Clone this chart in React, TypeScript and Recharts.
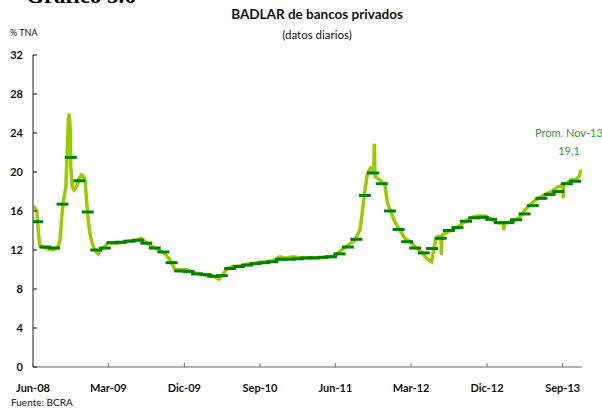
import React from "react";
import { ComposedChart, Line, Scatter, XAxis, YAxis } from "recharts";

// Tasa BADLAR bancos privados (datos diarios, lectura aproximada del gráfico)
const fechas = [
  "2008-06-01", "2008-06-08", "2008-06-15", "2008-06-20", "2008-06-25", "2008-07-08", "2008-07-26", "2008-08-14",
  "2008-09-01", "2008-09-07", "2008-09-13", "2008-09-19", "2008-09-28", "2008-10-03", "2008-10-07", "2008-10-10",
  "2008-10-14", "2008-10-16", "2008-10-21", "2008-10-28", "2008-11-06", "2008-11-15", "2008-11-24", "2008-12-02",
  "2008-12-07", "2008-12-12", "2008-12-18", "2008-12-24", "2009-01-01", "2009-01-11", "2009-01-23", "2009-02-04",
  "2009-02-16", "2009-02-28", "2009-03-30", "2009-04-24", "2009-05-18", "2009-06-11", "2009-06-29", "2009-07-11",
  "2009-07-29", "2009-08-16", "2009-09-03", "2009-09-22", "2009-10-10", "2009-10-28", "2009-11-09", "2009-12-09",
  "2010-01-02", "2010-01-26", "2010-02-19", "2010-03-15", "2010-04-05", "2010-04-20", "2010-05-03", "2010-05-26",
  "2010-06-19", "2010-07-13", "2010-08-06", "2010-09-01", "2010-09-23", "2010-10-17", "2010-11-12", "2010-12-04",
  "2010-12-28", "2011-01-23", "2011-02-10", "2011-04-12", "2011-05-30", "2011-06-23", "2011-07-17", "2011-08-10",
  "2011-08-29", "2011-09-06", "2011-09-16", "2011-09-25", "2011-10-06", "2011-10-16", "2011-10-18", "2011-10-20",
  "2011-10-22", "2011-10-24", "2011-11-09", "2011-11-27", "2011-12-07", "2011-12-19", "2012-01-02", "2012-01-20",
  "2012-02-07", "2012-02-26", "2012-03-15", "2012-04-08", "2012-04-26", "2012-05-14", "2012-05-29", "2012-06-07",
  "2012-06-17", "2012-06-19", "2012-06-21", "2012-07-01", "2012-07-26", "2012-08-18", "2012-09-12", "2012-10-06",
  "2012-10-30", "2012-11-23", "2012-12-17", "2013-01-10", "2013-01-29", "2013-01-31", "2013-02-02", "2013-02-10",
  "2013-03-06", "2013-03-30", "2013-04-17", "2013-05-11", "2013-06-04", "2013-06-28", "2013-07-23", "2013-08-16",
  "2013-09-01", "2013-09-03", "2013-09-05", "2013-09-15", "2013-10-03", "2013-10-21", "2013-11-01", "2013-11-06",
  "2013-11-08",
];
const badlar = [
  16.45, 16.3, 16.0, 14.0, 12.5, 12.3, 12.1, 12.0,
  12.4, 13.0, 15.4, 17.0, 18.4, 22.3, 25.3, 26.0,
  24.3, 20.5, 18.5, 18.15, 18.5, 19.35, 19.7, 19.5,
  19.0, 17.1, 15.1, 13.7, 12.7, 12.0, 11.6, 12.1,
  12.35, 12.75, 12.7, 12.8, 12.95, 13.0, 13.2, 12.85,
  12.5, 12.2, 11.95, 11.6, 11.0, 10.0, 9.95, 10.0,
  9.7, 9.55, 9.4, 9.35, 9.0, 9.5, 10.05, 10.3,
  10.35, 10.55, 10.6, 10.75, 10.8, 10.9, 11.3, 11.15,
  11.3, 11.2, 11.15, 11.2, 11.4, 12.0, 12.5, 13.0,
  14.05, 15.8, 18.15, 19.85, 20.4, 20.2, 20.2, 22.9,
  19.8, 19.5, 19.2, 18.7, 16.8, 15.9, 14.9, 14.05,
  13.2, 12.85, 12.35, 11.8, 11.15, 10.8, 13.0, 13.4,
  13.3, 11.5, 13.5, 13.7, 14.05, 14.4, 14.9, 15.35,
  15.5, 15.5, 15.15, 14.8, 14.8, 14.05, 14.8, 14.8,
  14.95, 15.35, 16.1, 16.8, 17.3, 17.65, 18.0, 18.5,
  18.6, 17.3, 18.7, 18.85, 19.2, 19.25, 19.6, 20.2,
  19.9,
];

// Promedios mensuales
const meses = [
  "2008-06", "2008-07", "2008-08", "2008-09", "2008-10", "2008-11", "2008-12",
  "2009-01", "2009-02", "2009-03", "2009-04", "2009-05", "2009-06", "2009-07", "2009-08", "2009-09", "2009-10", "2009-11", "2009-12",
  "2010-01", "2010-02", "2010-03", "2010-04", "2010-05", "2010-06", "2010-07", "2010-08", "2010-09", "2010-10", "2010-11", "2010-12",
  "2011-01", "2011-02", "2011-03", "2011-04", "2011-05", "2011-06", "2011-07", "2011-08", "2011-09", "2011-10", "2011-11", "2011-12",
  "2012-01", "2012-02", "2012-03", "2012-04", "2012-05", "2012-06", "2012-07", "2012-08", "2012-09", "2012-10", "2012-11", "2012-12",
  "2013-01", "2013-02", "2013-03", "2013-04", "2013-05", "2013-06", "2013-07", "2013-08", "2013-09", "2013-10",
];
const promedios = [
  14.9, 12.3, 12.2, 16.7, 21.5, 19.1, 15.9,
  12.0, 12.2, 12.75, 12.8, 12.9, 13.0, 12.7, 12.2, 11.8, 10.7, 9.85, 9.8,
  9.55, 9.47, 9.3, 9.37, 10.1, 10.3, 10.45, 10.6, 10.7, 10.8, 11.05, 11.05,
  11.1, 11.2, 11.2, 11.25, 11.3, 11.6, 12.3, 13.1, 17.6, 19.9, 18.8, 16.0,
  14.1, 12.85, 12.2, 11.7, 12.15, 13.2, 14.0, 14.3, 14.95, 15.3, 15.35, 15.15,
  14.8, 14.8, 15.1, 15.7, 16.55, 17.3, 17.7, 18.0, 18.8, 19.05,
];

const ticksX = ["2008-06", "2009-03", "2009-12", "2010-09", "2011-06", "2012-03", "2012-12", "2013-09"];
const ticksY = [0, 4, 8, 12, 16, 20, 24, 28, 32];
const MES = ["Ene", "Feb", "Mar", "Abr", "May", "Jun", "Jul", "Ago", "Sep", "Oct", "Nov", "Dic"];
const inicio = "2008-06-01";
const fin = "2013-11-10";

const toTs = (s: string, dia?: number) => {
  const p = s.split("-").map(Number);
  return Date.UTC(p[0], p[1] - 1, dia ?? (p[2] || 1));
};

const daily = fechas.map((f, i) => ({ t: toTs(f), v: badlar[i] }));
const monthly = meses.map((m, i) => ({ t: toTs(m, 16), v: promedios[i] }));

const FONT = "Lato, 'Open Sans', sans-serif";
const AXIS = "#6b6b6b";

const fmtX = (t: number) => {
  const d = new Date(t);
  return `${MES[d.getUTCMonth()]}-${String(d.getUTCFullYear() % 100).padStart(2, "0")}`;
};

const XTick = (props: any) => {
  const { x, y, payload } = props;
  return (
    <g>
      <line x1={x} x2={x} y1={y} y2={y - 4} stroke={AXIS} strokeWidth={1} />
      <text x={x} y={y + 25} textAnchor="middle" fontFamily={FONT} fontWeight={700} fontSize={11} fill="#111">
        {fmtX(payload.value)}
      </text>
    </g>
  );
};

const YTick = (props: any) => {
  const { x, y, payload } = props;
  return (
    <g>
      <line x1={x} x2={x + 4} y1={y} y2={y} stroke="#111" strokeWidth={1} />
      <text x={x - 10} y={y + 4} textAnchor="end" fontFamily={FONT} fontWeight={700} fontSize={11} fill="#111">
        {payload.value}
      </text>
    </g>
  );
};

const Dash = (props: any) => {
  const { cx, cy } = props;
  if (cx == null || cy == null) return <g />;
  return <line x1={cx - 6} x2={cx + 6} y1={cy} y2={cy} stroke="#008000" strokeWidth={3} />;
};

const txt = (style: React.CSSProperties): React.CSSProperties => ({
  position: "absolute",
  whiteSpace: "nowrap",
  fontFamily: FONT,
  lineHeight: 1,
  ...style,
});

export default function App() {
  return (
    <div style={{ position: "absolute", left: 0, top: 0, width: 602, height: 411, overflow: "hidden", background: "#fff" }}>
      <ComposedChart
        width={602}
        height={411}
        margin={{ top: 55, right: 20, left: 0, bottom: 0 }}
      >
        <XAxis
          dataKey="t"
          type="number"
          scale="time"
          domain={[toTs(inicio), toTs(fin)]}
          allowDataOverflow
          ticks={ticksX.map((m) => toTs(m))}
          tick={<XTick />}
          tickLine={false}
          tickSize={0}
          tickMargin={0}
          height={44}
          axisLine={{ stroke: AXIS, strokeWidth: 1.2 }}
          interval={0}
        />
        <YAxis
          type="number"
          domain={[0, 32]}
          ticks={ticksY}
          tick={<YTick />}
          tickLine={false}
          tickSize={0}
          tickMargin={0}
          width={33}
          axisLine={{ stroke: AXIS, strokeWidth: 1.5 }}
          interval={0}
        />
        <Line
          data={daily}
          dataKey="v"
          type="linear"
          stroke="#99cc00"
          strokeWidth={3.5}
          dot={false}
          isAnimationActive={false}
        />
        <Scatter data={monthly} dataKey="v" shape={<Dash />} isAnimationActive={false} />
      </ComposedChart>

      <div style={txt({ left: 26, top: -16, fontFamily: "'Liberation Serif', 'Times New Roman', serif", fontWeight: 700, fontSize: 23 })}>
        Gráfico 5.6
      </div>
      <div style={txt({ left: 117, width: 400, top: 8, textAlign: "center", fontWeight: 700, fontSize: 13.5, color: "#111" })}>
        BADLAR de bancos privados
      </div>
      <div style={txt({ left: 117, width: 400, top: 29, textAlign: "center", fontSize: 11.5, color: "#111" })}>
        (datos diarios)
      </div>
      <div style={txt({ left: 10, top: 28, fontSize: 9, color: "#111" })}>% TNA</div>
      <div style={txt({ left: 11, top: 397, fontSize: 10, color: "#111" })}>Fuente: BCRA</div>
      <div style={txt({ left: 535, top: 127, fontSize: 11, color: "#2e9a2e" })}>Prom. Nov-13</div>
      <div style={txt({ left: 549, width: 40, top: 145, textAlign: "center", fontSize: 11, color: "#2e9a2e" })}>19,1</div>
    </div>
  );
}
